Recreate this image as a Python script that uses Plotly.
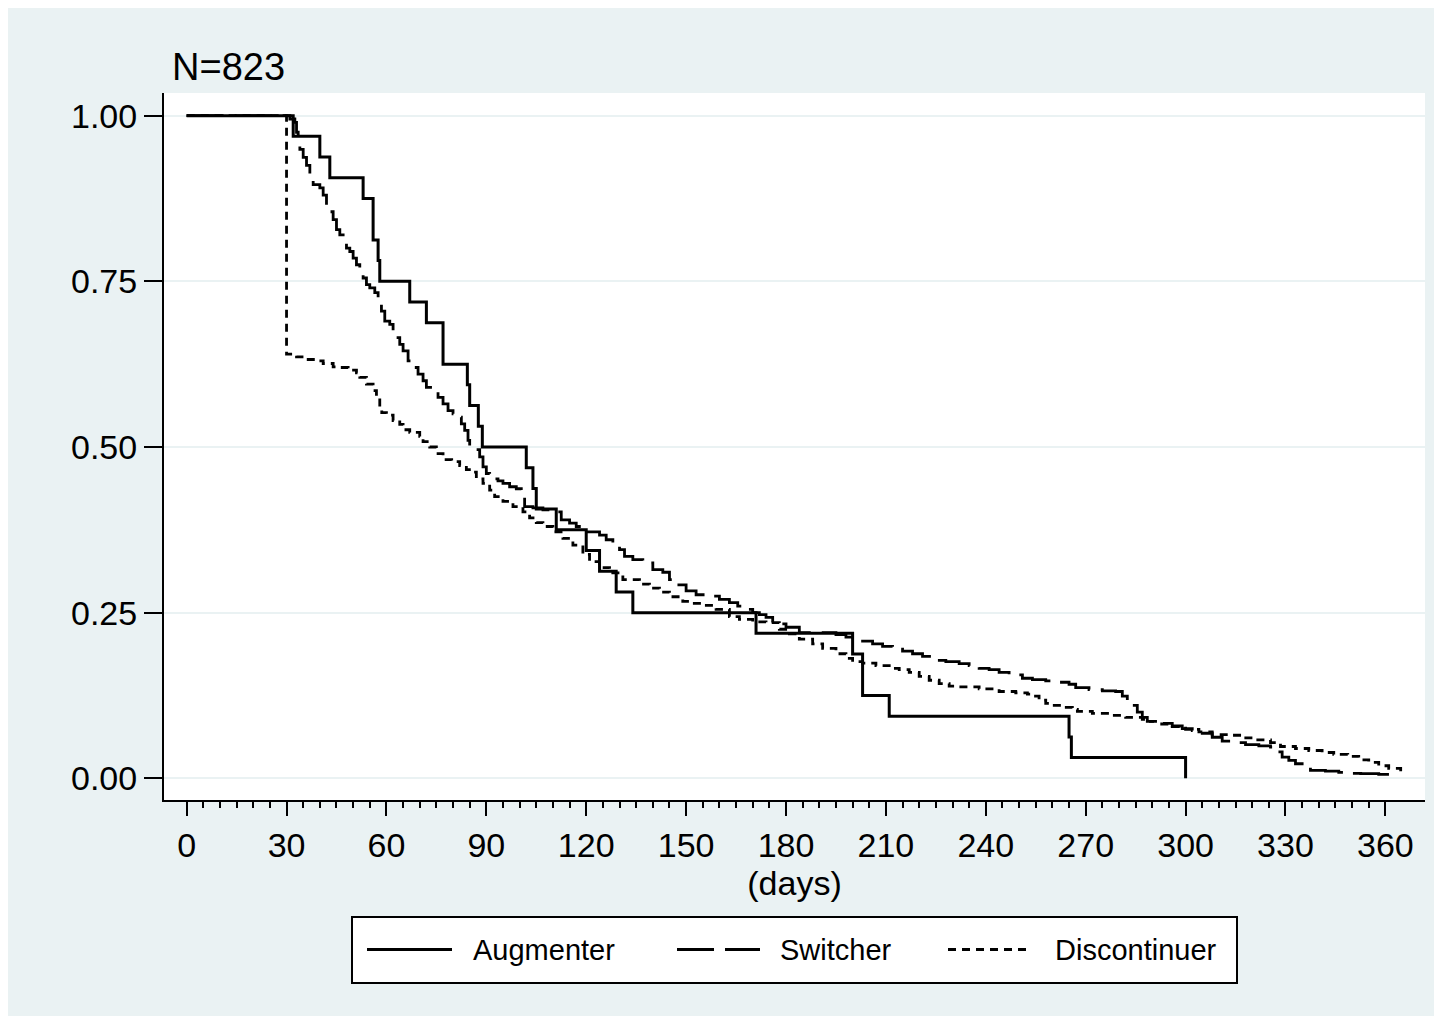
import plotly.graph_objects as go

# ---------------- data ----------------
aug_t = [0, 32, 40, 43, 53, 56, 57.5, 58, 67, 72, 77, 84.3, 85, 87.6, 88.8,
         102, 104, 105, 111, 120, 124, 129, 134, 171, 200, 203, 211, 265, 265.7, 300]
aug_s = [1.0, 31/32, 30/32, 29/32, 28/32, 26/32, 25/32, 24/32, 23/32, 22/32, 20/32,
         19/32, 18/32, 17/32, 16/32, 15/32, 14/32, 13/32, 12/32, 11/32, 10/32, 9/32,
         8/32, 7/32, 6/32, 4/32, 3/32, 2/32, 1/32, 0.0]

sw_t = [0, 31, 32.5, 33, 33.5, 34, 35, 36, 37, 38, 40, 41, 42, 43, 44, 45, 46, 47, 48,
        49, 50, 51, 52, 53, 54, 55, 56.5, 57.5, 58.5, 59.5, 61, 62, 63, 64, 65, 66.5,
        68, 69.5, 71, 72, 74, 75.5, 77, 78.5, 80, 81.5, 82.5, 83.5, 84.5, 85, 86.5,
        88, 89, 90, 91, 93.5, 95, 97, 99, 100.5, 101.5, 104, 107, 110, 112.5, 115,
        117, 120, 124, 126, 128, 130, 131.5, 134, 137, 140, 143, 145, 147, 150, 153,
        156, 160, 163, 165.5, 168, 170, 172, 174, 176, 180, 184, 195, 198, 200, 203,
        206, 209, 212, 215, 218, 221, 225, 228, 232, 235, 238, 241, 244, 247, 251,
        254, 258, 262, 265, 267, 271, 275, 279, 281, 282.5, 284, 285.5, 287, 288.5,
        292, 296, 299, 302, 305, 308, 311, 314, 318, 322, 325.5, 327, 329, 331, 333,
        335.5, 337.5, 342, 346, 349, 352.6, 358, 364]
sw_s = [1.0, 0.995, 0.99, 0.975, 0.96, 0.949, 0.937, 0.925, 0.91, 0.896, 0.891, 0.88,
        0.865, 0.855, 0.843, 0.828, 0.82, 0.81, 0.80, 0.795, 0.785, 0.775, 0.765,
        0.755, 0.745, 0.740, 0.733, 0.72, 0.705, 0.69, 0.685, 0.675, 0.665, 0.655,
        0.645, 0.63, 0.62, 0.61, 0.60, 0.59, 0.585, 0.575, 0.565, 0.555, 0.55, 0.545,
        0.535, 0.525, 0.51, 0.50, 0.496, 0.485, 0.47, 0.46, 0.452, 0.449, 0.445,
        0.44, 0.437, 0.43, 0.41, 0.408, 0.405, 0.402, 0.39, 0.385, 0.38, 0.372,
        0.367, 0.36, 0.352, 0.345, 0.335, 0.33, 0.325, 0.315, 0.311, 0.30, 0.292,
        0.283, 0.277, 0.275, 0.27, 0.265, 0.26, 0.255, 0.25, 0.247, 0.243, 0.233,
        0.228, 0.22, 0.217, 0.213, 0.21, 0.207, 0.203, 0.199, 0.195, 0.192, 0.188,
        0.184, 0.178, 0.176, 0.173, 0.17, 0.166, 0.164, 0.16, 0.156, 0.151, 0.149,
        0.147, 0.145, 0.142, 0.137, 0.134, 0.132, 0.131, 0.124, 0.117, 0.11, 0.10,
        0.092, 0.086, 0.083, 0.079, 0.075, 0.072, 0.068, 0.062, 0.056, 0.054, 0.051,
        0.049, 0.047, 0.04, 0.032, 0.027, 0.022, 0.018, 0.012, 0.011, 0.009, 0.0075,
        0.007, 0.006, 0.005]

dc_t = [0, 30, 33, 36, 38.5, 41, 44, 46, 48.5, 51, 52, 54, 56, 57, 58, 58.6, 60, 62,
        64, 65, 67, 70, 71, 73, 75, 77, 79.6, 82, 84, 86, 87, 89, 91, 92.5, 95, 98,
        101, 103, 105, 107, 110, 113, 116, 119, 121, 124, 127, 131, 136, 139, 142,
        145, 149, 152, 155, 159, 163, 166, 170, 174, 178, 181, 184, 188, 191, 195,
        198, 200, 203, 207, 211, 214, 217, 220, 223, 226, 229, 232, 238, 244, 249,
        252.5, 254, 256, 258, 260, 263, 266, 267.5, 272, 277, 282, 287, 288.5, 292,
        296, 300, 304, 308, 313.5, 317, 321, 325.5, 328.5, 333, 337, 341, 344.5,
        348.7, 352, 355, 358, 361, 364.6]
dc_s = [1.0, 0.64, 0.636, 0.632, 0.63, 0.626, 0.621, 0.62, 0.616, 0.612, 0.605, 0.595,
        0.585, 0.576, 0.56, 0.552, 0.548, 0.54, 0.534, 0.526, 0.522, 0.516, 0.508,
        0.50, 0.49, 0.481, 0.478, 0.472, 0.466, 0.462, 0.452, 0.445, 0.435, 0.425,
        0.418, 0.41, 0.402, 0.393, 0.386, 0.38, 0.372, 0.362, 0.352, 0.338, 0.327,
        0.318, 0.31, 0.30, 0.293, 0.287, 0.281, 0.274, 0.267, 0.264, 0.261, 0.255,
        0.244, 0.24, 0.236, 0.235, 0.225, 0.218, 0.21, 0.203, 0.196, 0.188, 0.181,
        0.176, 0.174, 0.17, 0.166, 0.164, 0.16, 0.154, 0.148, 0.143, 0.139, 0.138,
        0.135, 0.131, 0.129, 0.127, 0.124, 0.118, 0.113, 0.11, 0.107, 0.104, 0.101,
        0.098, 0.095, 0.092, 0.089, 0.086, 0.082, 0.078, 0.074, 0.07, 0.066, 0.065,
        0.061, 0.058, 0.054, 0.048, 0.045, 0.042, 0.039, 0.036, 0.033, 0.028, 0.024,
        0.019, 0.015, 0.0106]

series_names = ["Augmenter", "Switcher", "Discontinuer"]
x_ticks = [0, 30, 60, 90, 120, 150, 180, 210, 240, 270, 300, 330, 360]
x_minor_ticks = [v for v in range(5, 360, 5) if v % 30 != 0]
y_ticks = [0, 0.25, 0.5, 0.75, 1.0]
y_ticktext = ["0.00", "0.25", "0.50", "0.75", "1.00"]
title_text = "N=823"
x_title = "(days)"

# ---------------- style ----------------
BG = "#EAF2F3"
FONT = "Liberation Sans, Arial, sans-serif"
W, H = 1426, 1008
ML, MR, MT, MB = 156, 9, 85, 216
PW, PH = W - ML - MR, H - MT - MB
dashes = ["solid", "37px,11px", "8px,6px"]
widths = [3, 2.8, 2.8]


def px(xr):  # reference-pixel x -> paper
    return (xr - 8 - ML) / PW


def py(yr):  # reference-pixel y -> paper
    return (H - MB - (yr - 8)) / PH


fig = go.Figure()
for name, t, s, d, w in zip(series_names, [aug_t, sw_t, dc_t], [aug_s, sw_s, dc_s], dashes, widths):
    fig.add_trace(go.Scatter(x=t, y=s, mode="lines", name=name, line_shape="hv",
                             line=dict(color="black", width=w, dash=d), showlegend=False))

fig.update_layout(
    width=W, height=H,
    margin=dict(l=ML, r=MR, t=MT, b=MB),
    paper_bgcolor=BG, plot_bgcolor="white",
    font=dict(family=FONT, color="black", size=34),
)
fig.update_xaxes(
    range=[-6.8, 371.9], tickvals=x_ticks, ticks="outside", ticklen=14, tickwidth=2,
    tickcolor="black", showline=True, linecolor="black", linewidth=2, showgrid=False,
    zeroline=False, tickfont=dict(size=34),
    minor=dict(tickmode="array", tickvals=x_minor_ticks, ticks="outside", ticklen=6,
               tickwidth=2, tickcolor="black", showgrid=False),
    title=dict(text=x_title, font=dict(size=34), standoff=0),
)
fig.update_yaxes(
    range=[-0.0327, 1.0342], tickvals=y_ticks, ticktext=y_ticktext, ticks="outside",
    ticklen=18, tickwidth=2, tickcolor="black", showline=True, linecolor="black",
    linewidth=2, showgrid=True, gridcolor=BG, gridwidth=2, zeroline=False,
    tickfont=dict(size=34),
)

# title
fig.add_annotation(text=title_text, xref="paper", yref="paper", x=px(170), y=py(67),
                   xanchor="left", yanchor="middle", showarrow=False, font=dict(size=38))

# legend (manual, Stata style)
fig.add_shape(type="rect", xref="paper", yref="paper", x0=px(352), x1=px(1237), y0=py(983), y1=py(917),
              line=dict(color="black", width=2), fillcolor="white", layer="above")
samples = [(367, 452), (677, 760), (948, 1032)]
text_x = [473, 780, 1055]
for (a, b), tx, name, d, w in zip(samples, text_x, series_names, dashes, widths):
    fig.add_shape(type="line", xref="paper", yref="paper", x0=px(a), x1=px(b), y0=py(949.5), y1=py(949.5),
                  line=dict(color="black", width=w, dash=d), layer="above")
    fig.add_annotation(text=name, xref="paper", yref="paper", x=px(tx - 2), y=py(950),
                       xanchor="left", yanchor="middle", showarrow=False, font=dict(size=29))

fig.write_html("out.html")
